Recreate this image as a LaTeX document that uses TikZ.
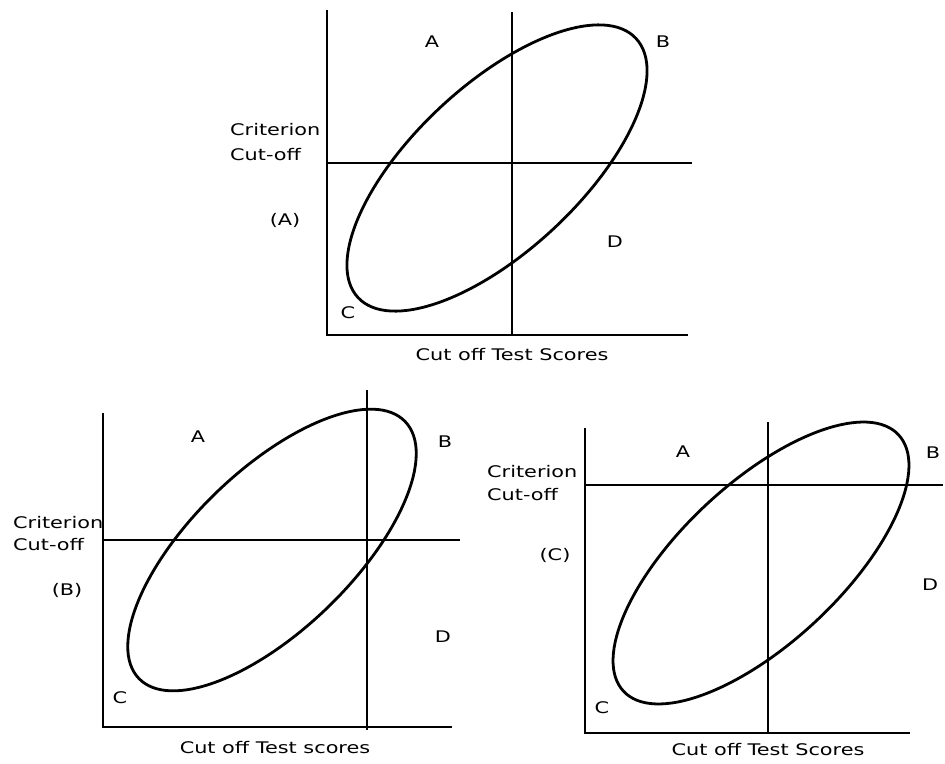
\documentclass[tikz,border=0pt]{standalone}
\usepackage{fontspec}
\newfontfamily\lblfont[FakeStretch=1.3]{DejaVu Sans}
\usetikzlibrary{calc}
\tikzset{
  axisline/.style={line width=2pt},
  cutline/.style={line width=1.3pt},
  band/.style={line width=2.8pt},
  lbl/.style={font=\lblfont\fontsize{16}{19}\selectfont, inner sep=0pt},
}
\begin{document}
\begin{tikzpicture}[x=1pt,y=-1pt]
  \useasboundingbox (0,0) rectangle (945,763);
  % panel (A)
  \coordinate (A-o) at (327,335);
  \coordinate (A-top) at (327,10);
  \coordinate (A-end) at (688,335);
  \coordinate (A-vt) at (512,12);
  \coordinate (A-vb) at (512,335);
  \coordinate (A-hl) at (327,163);
  \coordinate (A-hr) at (692,163);
  \draw[axisline] (A-top) -- (A-o) -- (A-end);
  \draw[cutline] (A-vt) -- (A-vb);
  \draw[cutline] (A-hl) -- (A-hr);
  \draw[band, rotate around={43:(497,168)}] (497,168) ellipse [x radius=190, y radius=83];
  \node[lbl] (A-a) at (432,42) {A};
  \node[lbl] (A-b) at (663,42) {B};
  \node[lbl] (A-c) at (348,313) {C};
  \node[lbl] (A-d) at (615,242) {D};
  \node[lbl, anchor=west] (A-crit) at (230,130) {Criterion};
  \node[lbl, anchor=west] (A-cut) at (230,155) {Cut-off};
  \node[lbl] (A-tag) at (285,220) {(A)};
  \node[lbl] (A-cap) at (512,355) {Cut off Test Scores};
  % panel (B)
  \coordinate (B-o) at (103,727);
  \coordinate (B-top) at (103,413);
  \coordinate (B-end) at (452,727);
  \coordinate (B-vt) at (367,390);
  \coordinate (B-vb) at (367,730);
  \coordinate (B-hl) at (103,540);
  \coordinate (B-hr) at (460,540);
  \draw[axisline] (B-top) -- (B-o) -- (B-end);
  \draw[cutline] (B-vt) -- (B-vb);
  \draw[cutline] (B-hl) -- (B-hr);
  \draw[band, rotate around={44:(272,550)}] (272,550) ellipse [x radius=185, y radius=80];
  \node[lbl] (B-a) at (198,437) {A};
  \node[lbl] (B-b) at (445,442) {B};
  \node[lbl] (B-c) at (120,698) {C};
  \node[lbl] (B-d) at (443,637) {D};
  \node[lbl, anchor=west] (B-crit) at (13,523) {Criterion};
  \node[lbl, anchor=west] (B-cut) at (13,545) {Cut-off};
  \node[lbl] (B-tag) at (67,590) {(B)};
  \node[lbl] (B-cap) at (275,748) {Cut off Test scores};
  % panel (C)
  \coordinate (C-o) at (585,733);
  \coordinate (C-top) at (585,428);
  \coordinate (C-end) at (910,733);
  \coordinate (C-vt) at (768,422);
  \coordinate (C-vb) at (768,733);
  \coordinate (C-hl) at (585,485);
  \coordinate (C-hr) at (943,485);
  \draw[axisline] (C-top) -- (C-o) -- (C-end);
  \draw[cutline] (C-vt) -- (C-vb);
  \draw[cutline] (C-hl) -- (C-hr);
  \draw[band, rotate around={43:(761,563)}] (761,563) ellipse [x radius=188, y radius=80];
  \node[lbl] (C-a) at (683,452) {A};
  \node[lbl] (C-b) at (933,453) {B};
  \node[lbl] (C-c) at (602,708) {C};
  \node[lbl] (C-d) at (930,585) {D};
  \node[lbl, anchor=west] (C-crit) at (487,472) {Criterion};
  \node[lbl, anchor=west] (C-cut) at (487,495) {Cut-off};
  \node[lbl] (C-tag) at (555,555) {(C)};
  \node[lbl] (C-cap) at (768,750) {Cut off Test Scores};
\end{tikzpicture}
\end{document}
